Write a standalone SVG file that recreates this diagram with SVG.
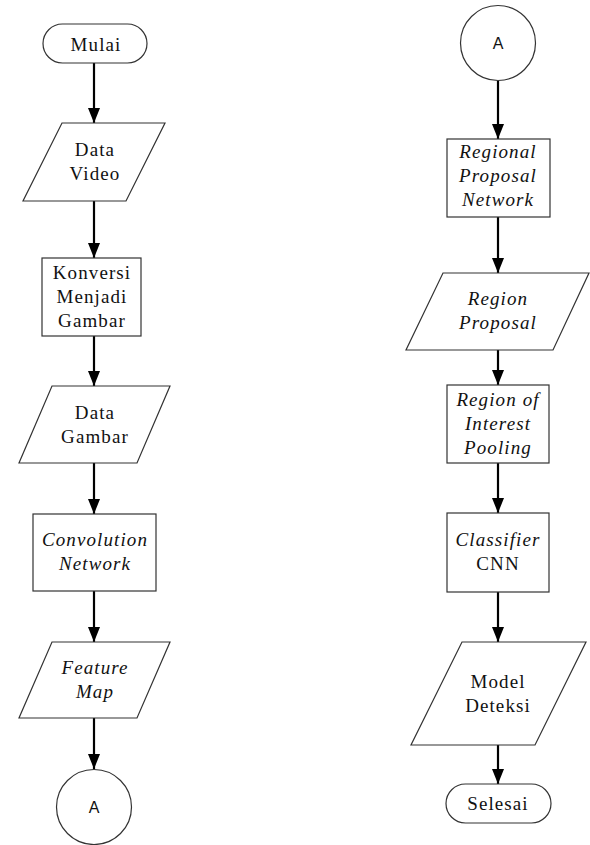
<svg xmlns="http://www.w3.org/2000/svg" width="590" height="845" viewBox="0 0 590 845">
<style>
.s{fill:#fff;stroke:#333;stroke-width:1.2}
.t{font-family:'Liberation Serif','Times New Roman',serif;font-size:19px;fill:#111;text-anchor:middle;letter-spacing:1.1px}
.i{font-style:italic}
.a{font-family:'Liberation Sans',Arial,sans-serif;font-size:16px;fill:#111;text-anchor:middle}
.c{stroke:#000;stroke-width:2.2;fill:none;marker-end:url(#ah)}
</style>
<defs>
<marker id="ah" markerUnits="userSpaceOnUse" markerWidth="16" markerHeight="12" refX="15" refY="6" orient="auto">
<path d="M0,0 L15,6 L0,12 z" fill="#000"/>
</marker>
</defs>
<rect width="590" height="845" fill="#fff"/>
<g id="connectors">
<line class="c" x1="94" y1="63" x2="94" y2="123"/>
<line class="c" x1="94" y1="201" x2="94" y2="258"/>
<line class="c" x1="94" y1="336" x2="94" y2="386"/>
<line class="c" x1="94" y1="463" x2="94" y2="514"/>
<line class="c" x1="94" y1="591" x2="94" y2="642"/>
<line class="c" x1="94" y1="718" x2="94" y2="769"/>
<line class="c" x1="498" y1="81" x2="498" y2="139"/>
<line class="c" x1="498" y1="217" x2="498" y2="273"/>
<line class="c" x1="498" y1="350" x2="498" y2="385"/>
<line class="c" x1="498" y1="463" x2="498" y2="513"/>
<line class="c" x1="498" y1="592" x2="498" y2="642"/>
<line class="c" x1="498" y1="745" x2="498" y2="784"/>
</g>
<g id="mulai">
<rect class="s" x="43" y="24" width="104" height="39" rx="19.5"/>
<text class="t" x="96" y="51">Mulai</text>
</g>
<g id="data-video">
<polygon class="s" points="62,123 165,123 126,201 23,201"/>
<text class="t" x="95" y="156">Data</text>
<text class="t" x="95" y="180">Video</text>
</g>
<g id="konversi">
<rect class="s" x="42" y="258" width="99" height="78"/>
<text class="t" x="92" y="279">Konversi</text>
<text class="t" x="92" y="303">Menjadi</text>
<text class="t" x="92" y="327">Gambar</text>
</g>
<g id="data-gambar">
<polygon class="s" points="52,386 170,386 137,463 19,463"/>
<text class="t" x="95" y="419">Data</text>
<text class="t" x="95" y="443">Gambar</text>
</g>
<g id="convolution">
<rect class="s" x="33" y="514" width="123" height="77"/>
<text class="t i" x="95" y="546">Convolution</text>
<text class="t i" x="95" y="570">Network</text>
</g>
<g id="feature-map">
<polygon class="s" points="52,642 170,642 137,718 19,718"/>
<text class="t i" x="95" y="674">Feature</text>
<text class="t i" x="95" y="698">Map</text>
</g>
<g id="connector-a-left">
<circle class="s" cx="94" cy="807" r="37.5"/>
<text class="a" x="94" y="813">A</text>
</g>
<g id="connector-a-right">
<circle class="s" cx="498" cy="43" r="37.5"/>
<text class="a" x="498" y="49">A</text>
</g>
<g id="rpn">
<rect class="s" x="447" y="139" width="103" height="78"/>
<text class="t i" x="498" y="158">Regional</text>
<text class="t i" x="498" y="182">Proposal</text>
<text class="t i" x="498" y="206">Network</text>
</g>
<g id="region-proposal">
<polygon class="s" points="443,273 589,273 553,350 406,350"/>
<text class="t i" x="498" y="305">Region</text>
<text class="t i" x="498" y="329">Proposal</text>
</g>
<g id="roi-pooling">
<rect class="s" x="447" y="385" width="102" height="78"/>
<text class="t i" x="498" y="406">Region of</text>
<text class="t i" x="498" y="430">Interest</text>
<text class="t i" x="498" y="454">Pooling</text>
</g>
<g id="classifier">
<rect class="s" x="447" y="513" width="102" height="79"/>
<text class="t i" x="498" y="546">Classifier</text>
<text class="t" x="498" y="570">CNN</text>
</g>
<g id="model-deteksi">
<polygon class="s" points="462,642 586,642 535,745 411,745"/>
<text class="t" x="498" y="688">Model</text>
<text class="t" x="498" y="712">Deteksi</text>
</g>
<g id="selesai">
<rect class="s" x="446" y="784" width="105" height="39" rx="19.5"/>
<text class="t" x="498" y="810">Selesai</text>
</g>
</svg>
